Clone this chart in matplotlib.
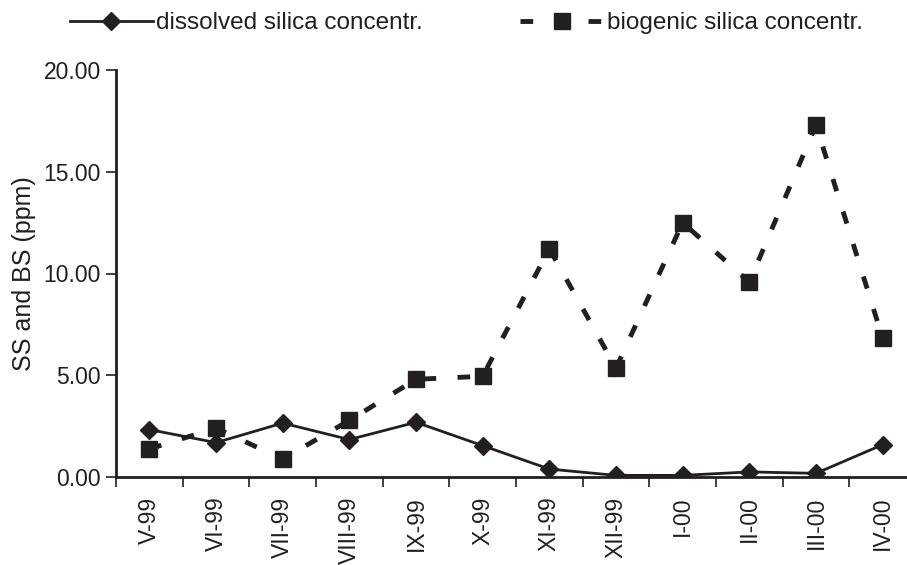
import matplotlib
matplotlib.use("Agg")
import matplotlib.pyplot as plt
from matplotlib.ticker import FixedLocator, NullFormatter, FixedFormatter

plt.rcParams['font.family'] = ['Liberation Sans', 'DejaVu Sans']

months = ["V-99", "VI-99", "VII-99", "VIII-99", "IX-99", "X-99",
          "XI-99", "XII-99", "I-00", "II-00", "III-00", "IV-00"]
dissolved = [2.33, 1.69, 2.65, 1.84, 2.69, 1.54, 0.39, 0.08, 0.08, 0.25, 0.18, 1.59]
biogenic = [1.38, 2.40, 0.88, 2.78, 4.80, 4.95, 11.22, 5.35, 12.50, 9.58, 17.30, 6.82]

ink = "#231f20"
W, H = 907, 565
fig = plt.figure(figsize=(W / 100, H / 100), dpi=100)
ax = fig.add_axes([116 / W, 88 / H, 800 / W, 407 / H])

x = list(range(len(months)))
ax.plot(x, dissolved, color=ink, lw=2, marker="D", ms=9.5, mfc=ink, mec=ink,
        label="dissolved silica concentr.", zorder=3)
ax.plot(x, biogenic, color=ink, lw=3.5, ls=(0, (2.6, 4.4)), marker="s", ms=11,
        mfc=ink, mec=ink, label="biogenic silica concentr.", zorder=3)

ax.set_xlim(-0.5, len(months) - 0.5)
ax.set_ylim(0, 20)
ax.set_yticks([0, 5, 10, 15, 20])
ax.set_yticklabels([f"{v:.2f}" for v in [0, 5, 10, 15, 20]], fontsize=16.5, color=ink)

ax.xaxis.set_major_locator(FixedLocator([i - 0.5 for i in range(len(months) + 1)]))
ax.xaxis.set_major_formatter(NullFormatter())
ax.xaxis.set_minor_locator(FixedLocator(x))
ax.xaxis.set_minor_formatter(FixedFormatter(months))
ax.tick_params(axis="x", which="major", length=7, width=1.2, color=ink, direction="out")
ax.tick_params(axis="x", which="minor", length=0, pad=14, labelsize=16.5,
               labelrotation=90, labelcolor=ink)
ax.tick_params(axis="y", length=7, width=1.2, color=ink, direction="out", pad=4)

for s in ["top", "right"]:
    ax.spines[s].set_visible(False)
for s in ["left", "bottom"]:
    ax.spines[s].set_color(ink)
    ax.spines[s].set_linewidth(2)

ax.set_ylabel("SS and BS (ppm)", fontsize=18, color=ink, labelpad=5)

fig.legend(loc="upper left", bbox_to_anchor=(58 / W, 1.0), ncol=2, frameon=False,
           fontsize=17.5, handlelength=3.4, handletextpad=0.15, columnspacing=4.0,
           borderaxespad=0.1, labelcolor=ink)

fig.savefig("out.png", dpi=100)
